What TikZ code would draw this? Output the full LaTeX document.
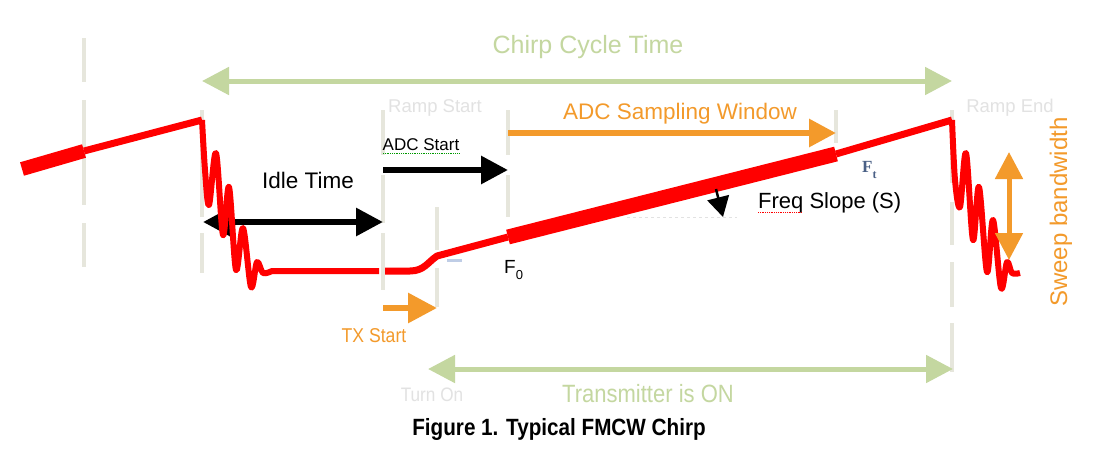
\documentclass[tikz,border=0pt]{standalone}
\usepackage{fontspec}
\setmainfont{Liberation Sans}
\newfontfamily\narrowsans[FakeStretch=0.88]{Liberation Sans}
\newfontfamily\ftfont{Liberation Serif}
\usetikzlibrary{arrows.meta}
\definecolor{cred}{HTML}{FF0000}
\definecolor{cgreen}{HTML}{C4D7A0}
\definecolor{corange}{HTML}{F39A2B}
\definecolor{cgrid}{HTML}{E6E6DC}
\definecolor{cfaint}{HTML}{E2E2E2}
\definecolor{cft}{HTML}{4A6086}
\definecolor{cblue}{HTML}{BFCDE6}
\tikzset{
  guide/.style={cgrid, line width=4pt},
  redln/.style={cred, line width=7pt, line join=round},
  redthick/.style={cred, line width=14pt},
  bigarrow/.style={line width=6pt, -{Triangle[length=27pt,width=27pt]}},
  dblarrow/.style={line width=6pt, {Triangle[length=27pt,width=27pt]}-{Triangle[length=27pt,width=27pt]}},
  lbl/.style={inner sep=0pt, anchor=base},
}
\newcommand{\fsz}[1]{\fontsize{#1pt}{#1pt}\selectfont}
\begin{document}
\begin{tikzpicture}[x=1pt,y=-1pt]
\useasboundingbox[fill=white] (0,0) rectangle (1109,464);
% guide lines
\foreach \x/\a/\b in {84/38/82, 84/100/205, 84/223/267, 202/110/217, 202/233/273,
  383/110/155, 383/175/223, 383/233/290, 437/207/250, 437/268/307,
  508/110/155, 508/175/217, 836/110/143,
  952/110/183, 952/202/245, 952/262/307, 952/323/372}
  \draw[guide] (\x,\a) -- (\x,\b);
% faint helper line for slope
\draw[cfaint, dashed, line width=1pt] (627,217) -- (737,217);
% arrow end points
\coordinate (cc1) at (202,81);
\coordinate (cc2) at (952,81);
\coordinate (id1) at (203,222);
\coordinate (id2) at (383,222);
\coordinate (as1) at (383,170);
\coordinate (as2) at (508,170);
\coordinate (sw1) at (508,133);
\coordinate (sw2) at (836,133);
\coordinate (tx1) at (383,308);
\coordinate (tx2) at (437,308);
\coordinate (on1) at (428,369);
\coordinate (on2) at (953,369);
\coordinate (bw1) at (1009,152);
\coordinate (bw2) at (1009,260);
\coordinate (sl1) at (716,189);
\coordinate (sl2) at (723,217);
\draw[dblarrow, black] (id1) -- (id2);
% red chirp
\draw[redthick] (22,169) -- (84,151);
\draw[redln] (84,151) -- (202,120);
\draw[redln, line width=6pt] plot[smooth, tension=0.55] coordinates {(202,120) (205,170) (209,205) (216,153) (223,235) (229,187) (236,270) (243,228) (251,287) (257,262) (263,273) (272,271)} -- (379,271);
\draw[redln] (385,271) -- (410,271) .. controls (424,271) and (428,262) .. (437,256) -- (508,237);
\draw[cblue, line width=3pt] (447,260) -- (462,260);
\draw[redthick, line width=15pt] (508,237) -- (836,154);
\draw[redln] (836,154) -- (952,120);
\draw[redln, line width=6pt] plot[smooth, tension=0.55] coordinates {(952,120) (955,180) (960,207) (966,153) (973,240) (979,187) (987,272) (993,220) (1001,288) (1007,262) (1012,273) (1020,273)};
% arrows
\draw[dblarrow, cgreen, line width=5pt] (cc1) -- (cc2);
\draw[bigarrow, black] (as1) -- (as2);
\draw[bigarrow, corange] (sw1) -- (sw2);
\draw[bigarrow, corange, -{Triangle[length=29pt,width=29pt]}] (tx1) -- (tx2);
\draw[dblarrow, cgreen, line width=5pt] (on1) -- (on2);
\draw[dblarrow, corange, line width=5pt] (bw1) -- (bw2);
\draw[black, line width=2.5pt, -{Triangle[length=20pt,width=22pt]}] (sl1) -- (sl2);
% labels
\node[lbl, text=cgreen, font=\fsz{25}] (tcycle) at (588,53) {Chirp Cycle Time};
\node[lbl, text=cfaint, font=\fsz{18.5}] (tramps) at (435,112) {Ramp Start};
\node[lbl, text=cfaint, font=\fsz{18.5}] (trampe) at (1010,112) {Ramp End};
\node[lbl, text=corange, font=\fsz{22.5}] (tsamp) at (680,119) {ADC\ Sampling\ Window};
\node[lbl, font=\fsz{17}] (tadc) at (421,150) {ADC\ Start};
\draw[green!60!black, densely dotted, line width=0.8pt] (383,153) -- (460,153);
\node[lbl, font=\fsz{22.5}] (tidle) at (308,188) {Idle Time};
\node[lbl, anchor=base west, font=\fsz{19}] (tf0) at (504,273) {F\raisebox{-6pt}{\fsz{13}0}};
\node[lbl, anchor=base west, font=\fsz{22}] (tslope) at (758,208) {Freq\ Slope\ (S)};
\draw[red, densely dotted, line width=0.8pt] (758,212) -- (802,212);
\node[lbl, anchor=base west, text=cft, font=\ftfont\bfseries\fsz{17}] (tft) at (862,172) {F\raisebox{-6pt}{\fsz{12}t}};
\node[lbl, rotate=90, text=corange, font=\fsz{24}] (tbw) at (1067,212) {Sweep\ bandwidth};
\node[lbl, text=corange, font=\narrowsans\fsz{20}] (ttx) at (374,342) {TX Start};
\node[lbl, text=cfaint, font=\narrowsans\fsz{19.5}] (tturn) at (432,401) {Turn On};
\node[lbl, text=cgreen, font=\narrowsans\fsz{25}] (ton) at (648,402) {Transmitter\ is ON};
\node[lbl, font=\narrowsans\bfseries\fsz{23.5}] (tcap) at (559,435) {Figure 1. Typical FMCW Chirp};
\end{tikzpicture}
\end{document}
